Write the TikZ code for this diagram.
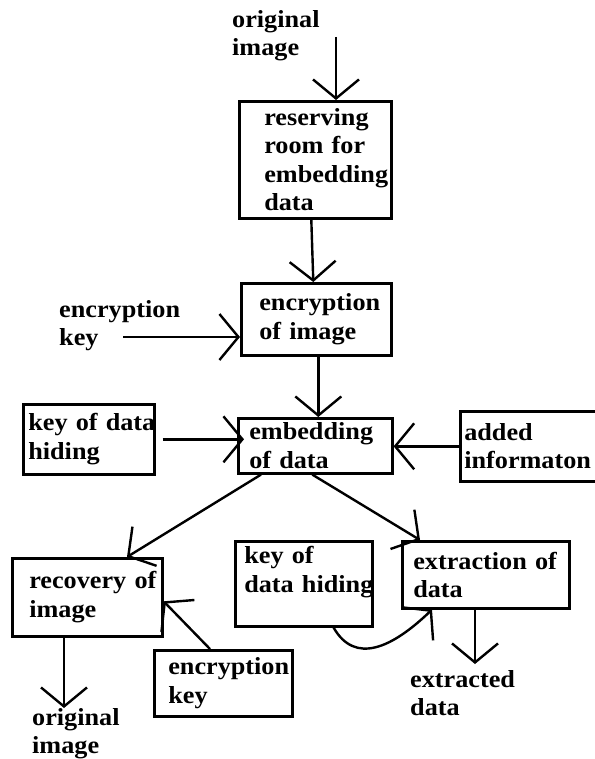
\documentclass[tikz,border=0pt]{standalone}
\usepackage{fontspec}
\setmainfont{Liberation Serif}[FakeStretch=1.07]
\usetikzlibrary{arrows.meta}
\hyphenpenalty=10000
\exhyphenpenalty=10000

\tikzset{
  txt/.style={font=\fontsize{24.5}{28.5}\selectfont\bfseries, inner sep=0pt, align=left, anchor=north west},
  stage/.style={draw, line width=2.6pt, font=\fontsize{24.5}{28.5}\selectfont\bfseries, anchor=north west,
                align=left, inner ysep=0pt},
  flow/.style={line width=2.4pt, -{Straight Barb[length=19pt,width=46pt,line width=2.4pt]}}
}

\begin{document}
\begin{tikzpicture}[x=1pt,y=-1pt]
  \useasboundingbox (0,0) rectangle (594,759);
  % stages
  \node[stage, minimum height=117pt, inner xsep=25pt, text width=102pt] (reserve) at (238,100)
    {reserving\\room~for\\embedding\\data};
  \node[stage, minimum height=72pt, inner xsep=18pt, text width=114pt] (encrypt) at (240,282)
    {encryption\\of~image};
  \node[stage, minimum height=55pt, inner xsep=11pt, text width=132pt] (embed) at (237,417)
    {embedding\\of~data};
  \node[stage, minimum height=70pt, inner xsep=5pt, text width=121pt] (hidekey) at (22,403)
    {key~of~data\\hiding};
  \node[stage, minimum height=70pt, inner xsep=4pt, text width=132pt] (added) at (459,410)
    {added\\informaton};
  \node[stage, minimum height=78pt, inner xsep=17pt, text width=116pt] (recover) at (11,557)
    {recovery~of\\image};
  \node[stage, minimum height=85pt, inner xsep=9pt, text width=119pt] (hidekeyb) at (234,540)
    {key~of\\data~hiding\\\mbox{}};
  \node[stage, minimum height=67pt, inner xsep=11pt, text width=145pt] (extract) at (401,540)
    {extraction~of\\data};
  \node[stage, minimum height=66pt, inner xsep=14pt, text width=110pt] (enckeyb) at (153,649)
    {encryption\\key};
  % plain labels
  \node[txt] (origin) at (232,10) {original\\image};
  \node[txt] (enckey) at (59,300) {encryption\\key};
  \node[txt] (origout) at (32,708) {original\\image};
  \node[txt] (extdata) at (410,670) {extracted\\data};
  \coordinate (origarr) at (336,37);
  \coordinate (keyarr) at (123,337);
  % connectors
  \draw[flow] (origarr) -- (origarr |- reserve.north);
  \draw[flow] ([xshift=-4pt]reserve.south) -- ([xshift=-3pt]encrypt.north);
  \draw[flow] (keyarr) -- (keyarr -| encrypt.west);
  \draw[flow] ([xshift=2pt]encrypt.south) -- ([xshift=3pt]embed.north);
  \draw[flow] ([xshift=7pt]hidekey.east) -- ([xshift=7pt]hidekey.east -| embed.west);
  \draw[flow] (added.west) -- (added.west -| embed.east);
  \draw[flow] ([xshift=24pt]embed.south west) -- ([xshift=116pt]recover.north west);
  \draw[flow] ([xshift=-3pt]embed.south) -- ([xshift=19pt]extract.north west);
  \draw[flow] ([xshift=-40pt]hidekeyb.south east) .. controls (355,665) and (392,648) .. ([xshift=31pt]extract.south west);
  \draw[flow] ([xshift=57pt]enckeyb.north west) -- ([yshift=-4pt]recover.east);
  \draw[flow] ([xshift=53pt]recover.south west) coordinate (recout) -- (recout |- origout.north);
  \draw[flow] ([xshift=74pt]extract.south west) coordinate (extout) -- ([yshift=6pt]extout |- extdata.north);
\end{tikzpicture}
\end{document}
